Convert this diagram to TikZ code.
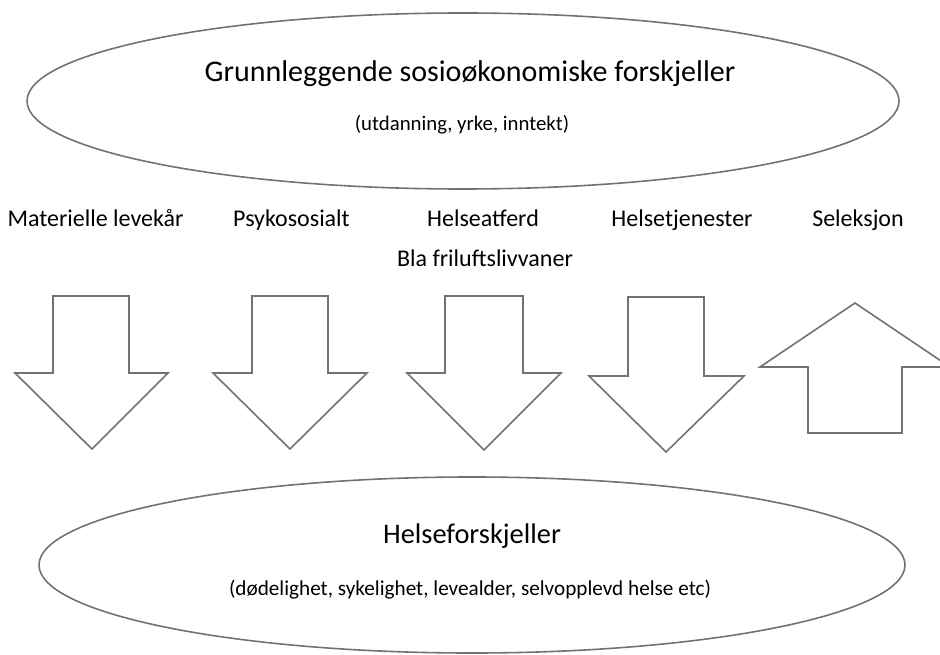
\documentclass[tikz,border=0pt]{standalone}
\usepackage{fontspec}
\setmainfont{Carlito}
\usetikzlibrary{shapes.geometric}
\definecolor{olgray}{HTML}{767171}
\tikzset{
  oval/.style={ellipse, draw=olgray, line width=1.6pt, inner sep=0pt},
  bigarrow/.style={draw=olgray, line width=1.6pt, line join=miter, fill=white},
  lbl/.style={font=\fontsize{24}{28}\selectfont, inner sep=0pt, anchor=base},
}
\begin{document}
\begin{tikzpicture}[x=1pt,y=-1pt]
\useasboundingbox (0,0) rectangle (940,655);
\clip (0,0) rectangle (940,655);
% ellipses
\node[oval, minimum width=872pt, minimum height=176pt] (top) at (463,101) {};
\node[oval, minimum width=866pt, minimum height=176pt] (bot) at (472,565) {};
\node[font=\fontsize{30}{34}\selectfont, anchor=base, inner sep=0pt] (toptitle) at (470,82) {Grunnleggende sosioøkonomiske forskjeller};
\node[font=\fontsize{20.8}{25}\selectfont, anchor=base, inner sep=0pt] (topsub) at (462,131) {(utdanning, yrke, inntekt)};
\node[font=\fontsize{28.4}{32}\selectfont, anchor=base, inner sep=0pt] (bottitle) at (472,543) {Helseforskjeller};
\node[font=\fontsize{21.2}{25}\selectfont, anchor=base, inner sep=0pt] (botsub) at (470,595) {(dødelighet, sykelighet, levealder, selvopplevd helse etc)};
% labels
\node[lbl] (l1) at (95.5,227) {Materielle levekår};
\node[lbl] (l2) at (291.5,227) {Psykososialt};
\node[lbl] (l3) at (483,227) {Helseatferd};
\node[lbl] (l4) at (682,227) {Helsetjenester};
\node[lbl] (l5) at (858,227) {Seleksjon};
\node[lbl] (l3b) at (485,267) {Bla friluftslivvaner};
% down arrows
\draw[bigarrow] (53,296) -- (129,296) -- (129,373) -- (168,373) -- (92,449) -- (15,373) -- (53,373) -- cycle;
\draw[bigarrow] (252,296) -- (328,296) -- (328,373) -- (367,373) -- (290,449) -- (213,373) -- (252,373) -- cycle;
\draw[bigarrow] (445,296) -- (523,296) -- (523,373) -- (561,373) -- (484,450) -- (407,373) -- (445,373) -- cycle;
\draw[bigarrow] (628,297) -- (704,297) -- (704,376) -- (744,376) -- (666,452) -- (589,376) -- (628,376) -- cycle;
% up arrow
\draw[bigarrow] (808,433) -- (902,433) -- (902,367) -- (950,367) -- (855,303) -- (760,367) -- (808,367) -- cycle;
\end{tikzpicture}
\end{document}
